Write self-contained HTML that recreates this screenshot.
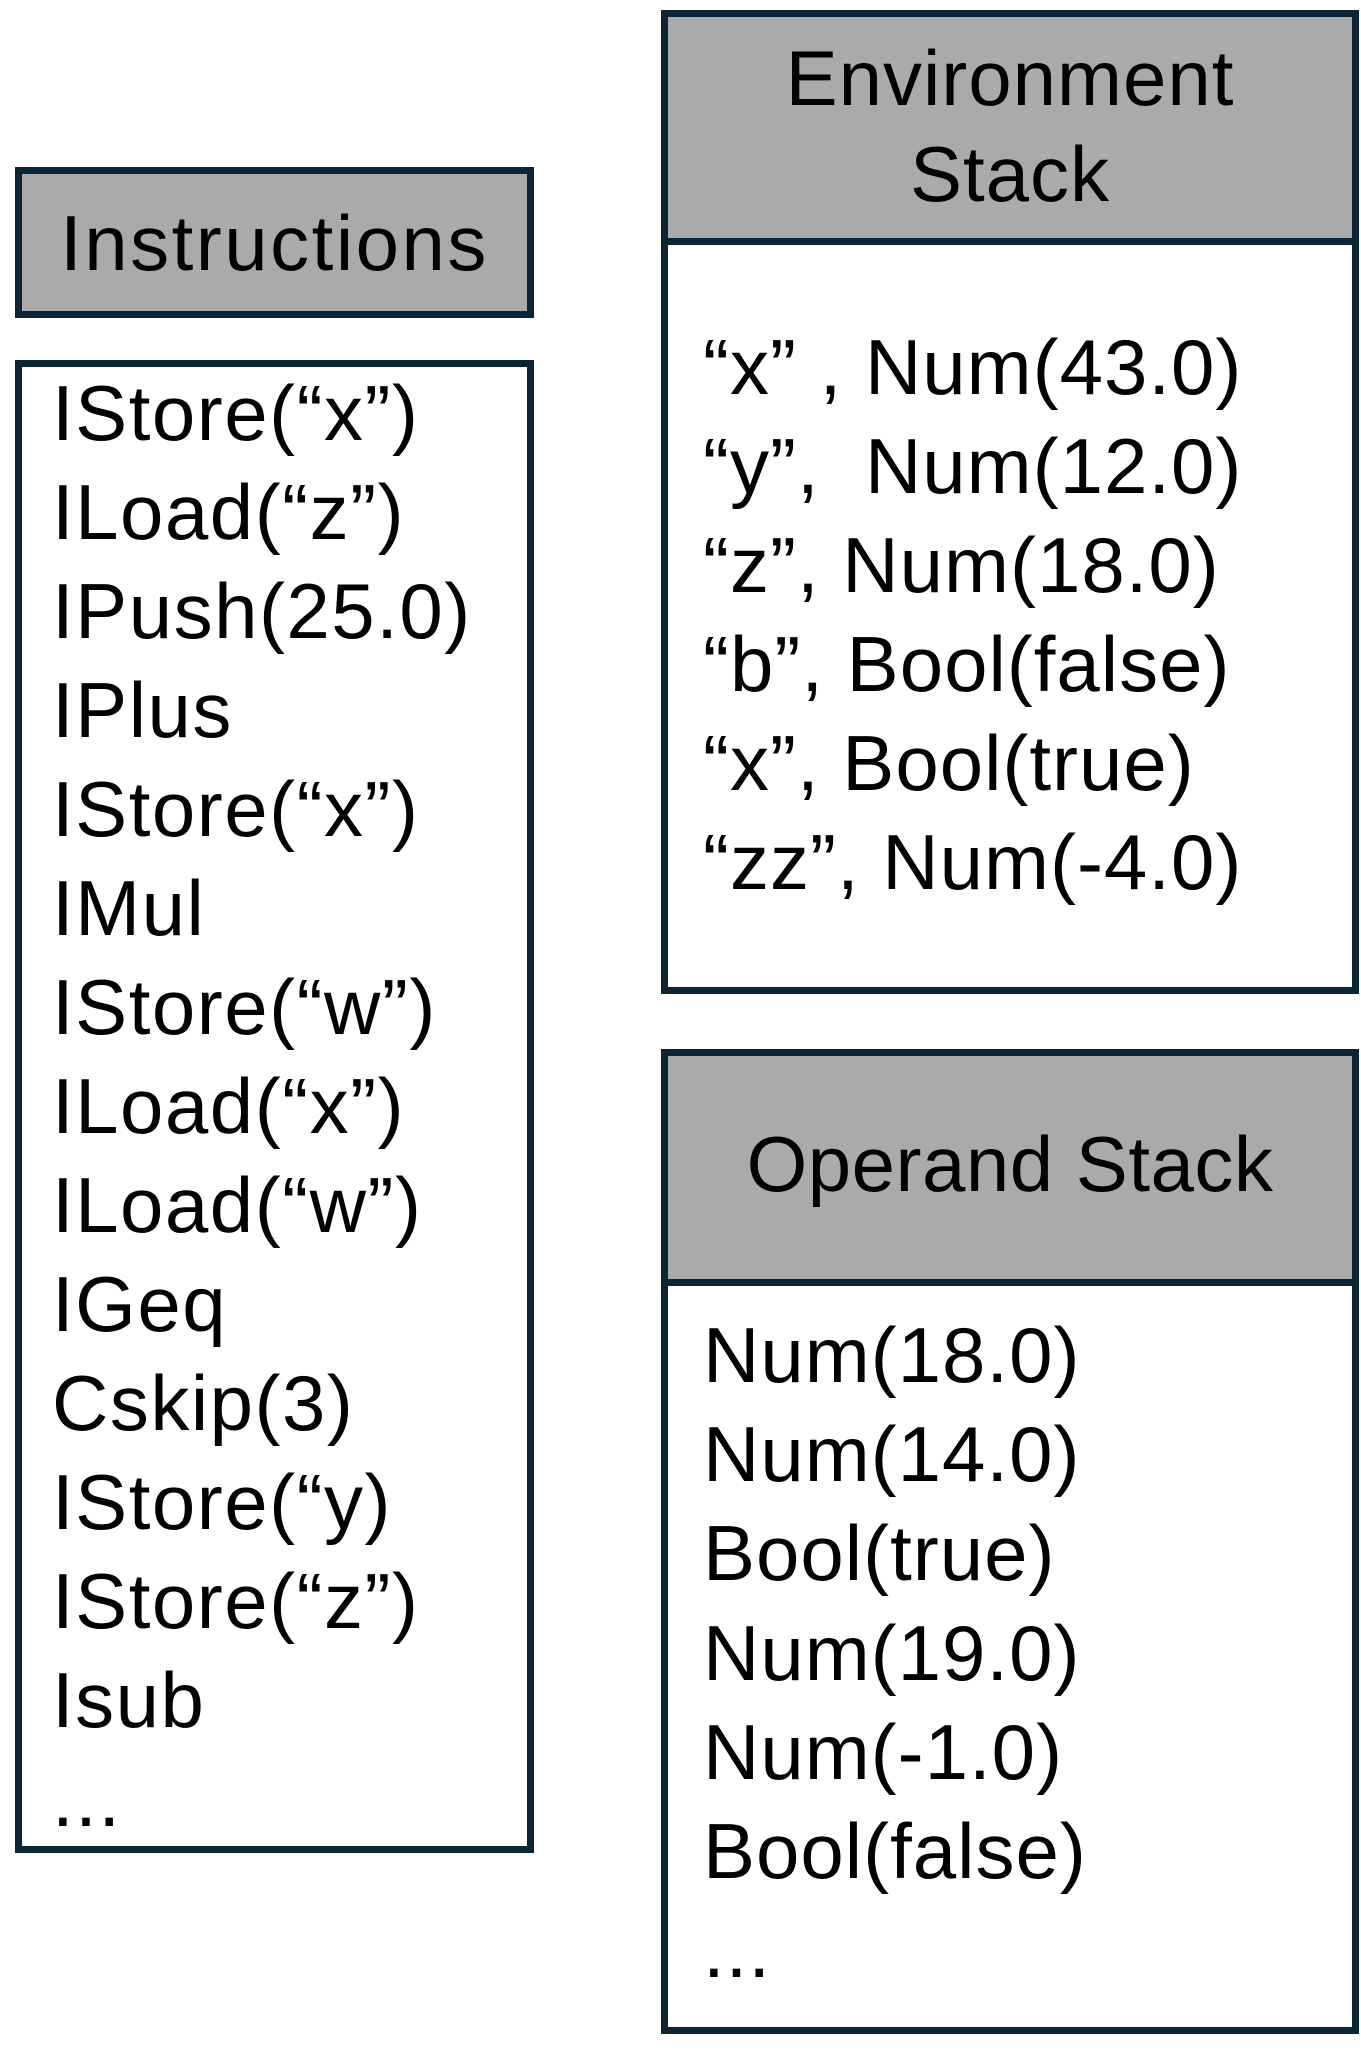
<!DOCTYPE html>
<html><head><meta charset="utf-8"><style>
html,body{margin:0;padding:0;background:#fff;width:1361px;height:2053px;overflow:hidden;position:relative;font-family:"Liberation Sans",sans-serif;color:#000}
.b{position:absolute;box-sizing:border-box;border:7px solid #0b2535}
.g{background:#aaaaaa}
.t{position:absolute;font-size:78px;line-height:99px;white-space:pre;letter-spacing:1px}
.c{position:absolute;left:0;right:0;text-align:center;font-size:78px;white-space:pre}
</style></head><body>
<div class="b g" style="left:15px;top:167px;width:519px;height:151px"><div class="c" style="top:21px;line-height:96px;letter-spacing:2.5px">Instructions</div></div>
<div class="b" style="left:15px;top:360px;width:519px;height:1493px"></div>
<div class="t" style="left:52px;top:364px;letter-spacing:1.5px">IStore(“x”)
ILoad(“z”)
IPush(25.0)
IPlus
IStore(“x”)
IMul
IStore(“w”)
ILoad(“x”)
ILoad(“w”)
IGeq
Cskip(3)
IStore(“y)
IStore(“z”)
Isub
...</div>

<div class="b g" style="left:661px;top:10px;width:698px;height:235px"><div class="c" style="top:13px;line-height:96px;letter-spacing:1px">Environment
Stack</div></div>
<div class="b" style="left:661px;top:238px;width:698px;height:756px"></div>
<div class="t" style="left:703px;top:318px">“x” , Num(43.0)
“y”,  Num(12.0)
“z”, Num(18.0)
“b”, Bool(false)
“x”, Bool(true)
“zz”, Num(-4.0)</div>

<div class="b g" style="left:661px;top:1049px;width:698px;height:237px"><div class="c" style="top:60px;line-height:96px;letter-spacing:0.5px">Operand Stack</div></div>
<div class="b" style="left:661px;top:1279px;width:698px;height:755px"></div>
<div class="t" style="left:703px;top:1306px;line-height:99.2px">Num(18.0)
Num(14.0)
Bool(true)
Num(19.0)
Num(-1.0)
Bool(false)
...</div>
</body></html>
